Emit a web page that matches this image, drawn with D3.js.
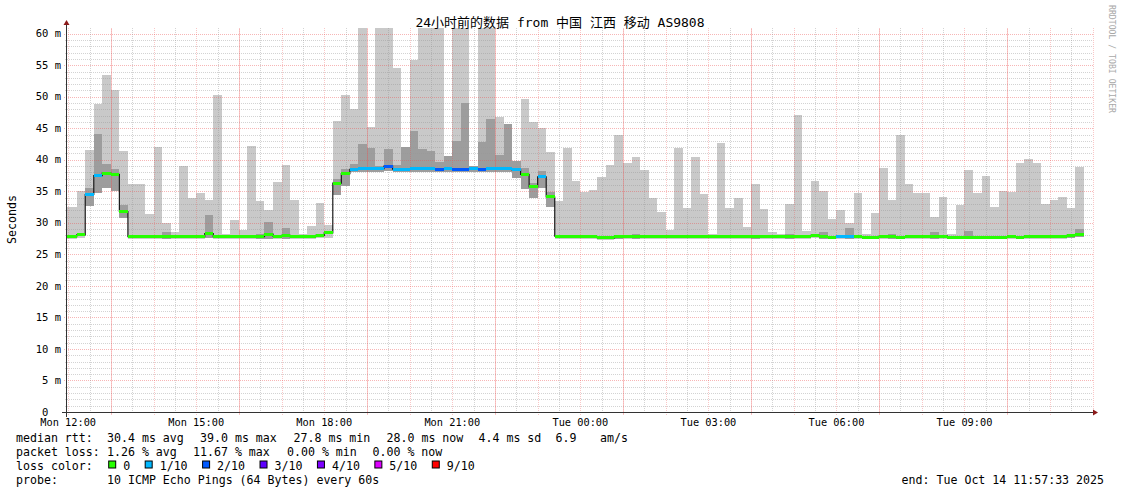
<!DOCTYPE html>
<html><head><meta charset="utf-8">
<script src="https://cdn.jsdelivr.net/npm/d3@7"></script>
<style>
html,body{margin:0;padding:0;background:#fff;}
text{font-family:"DejaVu Sans Mono","Noto Sans CJK SC",monospace;fill:#000;white-space:pre;}
</style></head><body>
<svg id="c" width="1121" height="494"></svg>
<script>
// ---------- data ----------
const startTime = new Date(2025, 9, 13, 11, 58, 22);
const endTime   = new Date(2025, 9, 14, 12, 0, 40);
const firstBar  = new Date(2025, 9, 13, 11, 48, 0);
const stepMinutes = 12;

const maxPing = [32.5,32.5,35.1,41.6,48.9,53.5,51.1,41.4,36.1,36.2,
 31.4,42.0,29.9,28.6,39.0,33.9,34.7,33.7,50.2,28.3,
 30.5,28.8,42.2,33.4,32.0,36.4,39.2,33.7,28.3,29.5,
 33.2,29.7,46.2,50.3,48.1,65,45.2,65,65,54.5,
 42.1,55.9,65,65,65,40.6,65,65,39.0,65,
 65,46.8,45.6,39.8,49.7,46.0,45.1,41.3,33.5,41.8,
 36.7,34.9,35.2,37.3,39.1,44.0,39.5,40.5,38.4,34.0,
 31.8,28.9,41.8,32.4,40.5,34.6,28.3,42.7,32.4,34.0,
 29.4,36.2,32.2,28.6,28.3,33.0,47.1,28.7,36.7,35.1,
 30.6,32.0,30.0,34.7,28.3,31.6,38.7,33.7,44.0,36.2,
 34.7,34.7,31.0,34.1,28.3,32.8,38.4,34.7,37.5,32.5,
 35.1,34.9,39.5,40.2,39.5,33.0,33.7,34.1,32.4,38.9];

const innerPing = [null,null,null,35.6,44.1,39.3,38.5,32.8,null,null,
 null,null,28.5,null,null,null,null,31.2,null,null,
 null,null,null,28.3,30.2,null,29.2,null,null,null,
 null,null,37.0,38.6,39.3,42.5,41.9,39.0,41.7,39.1,
 42.1,44.6,41.7,41.4,39.7,40.6,43.0,49.0,39.0,42.9,
 46.5,40.7,45.6,39.8,38.7,36.3,38.2,34.9,null,null,
 null,null,null,null,null,28.1,null,28.3,null,null,
 null,null,null,null,null,null,null,null,null,null,
 null,28.1,null,null,null,28.3,null,null,null,28.6,
 null,null,29.2,null,null,null,null,28.3,null,null,
 null,null,28.6,null,null,null,28.7,null,null,null,
 null,null,null,null,null,null,null,null,28.3,29.0];

const minPing = [27.5,27.5,27.6,32.7,34.7,35.6,35.0,30.7,27.5,27.5,
 27.5,27.5,27.5,27.5,27.5,27.5,27.5,27.6,27.5,27.5,
 27.5,27.5,27.5,27.5,27.5,27.5,27.5,27.5,27.5,27.5,
 27.6,27.6,34.4,35.8,38.1,38.1,38.1,38.1,38.2,38.1,
 38.1,38.1,38.1,38.1,38.1,38.1,38.1,38.1,38.1,38.1,
 38.1,38.1,38.1,37.1,35.3,34.0,35.6,32.5,27.5,27.5,
 27.5,27.5,27.5,27.3,27.3,27.5,27.5,27.5,27.5,27.5,
 27.5,27.5,27.5,27.5,27.5,27.5,27.5,27.5,27.5,27.5,
 27.5,27.5,27.5,27.5,27.5,27.5,27.5,27.5,27.6,27.5,
 27.4,27.5,27.5,27.5,27.4,27.4,27.5,27.5,27.4,27.5,
 27.5,27.5,27.5,27.5,27.4,27.4,27.4,27.4,27.4,27.4,
 27.4,27.5,27.4,27.5,27.5,27.5,27.5,27.5,27.6,27.7];

const medianRtt = [27.8,27.8,28.1,34.5,37.5,37.9,37.7,31.8,27.8,27.8,
 27.8,27.8,27.8,27.8,27.8,27.8,27.8,28.3,27.8,27.8,
 27.8,27.8,27.8,27.8,28.2,27.9,28.0,27.8,27.8,27.8,
 28.0,28.4,36.3,37.8,38.5,38.6,38.6,38.6,39.0,38.5,
 38.5,38.6,38.6,38.6,38.5,38.6,38.5,38.5,38.6,38.5,
 38.6,38.6,38.6,38.4,37.7,35.7,37.3,34.1,27.9,27.9,
 27.9,27.9,27.8,27.6,27.6,27.8,27.9,27.9,27.8,27.8,
 27.9,27.8,27.8,27.9,27.8,27.8,27.9,27.8,27.8,27.8,
 27.8,27.9,27.9,27.9,27.9,27.9,27.9,27.9,28.0,27.8,
 27.7,27.8,27.8,27.8,27.7,27.7,27.9,27.8,27.7,27.8,
 27.8,27.8,27.8,27.9,27.7,27.7,27.7,27.7,27.7,27.7,
 27.7,27.8,27.7,27.8,27.9,27.8,27.8,27.9,28.0,28.1];

const lossLevel = [0,0,0,1,1,0,0,0,0,0,
 0,0,0,0,0,0,0,0,0,0,
 0,0,0,0,0,0,0,0,0,0,
 0,0,0,0,1,1,1,1,2,1,
 1,1,1,1,2,1,2,2,1,2,
 1,1,1,1,0,0,1,0,0,0,
 0,0,0,0,0,0,0,0,0,0,
 0,0,0,0,0,0,0,0,0,0,
 0,0,0,0,0,0,0,0,0,0,
 0,1,1,0,0,0,0,0,0,0,
 0,0,0,0,0,0,0,0,0,0,
 0,0,0,0,0,0,0,0,0,0];

const lossLabels = ["0","1/10","2/10","3/10","4/10","5/10","9/10"];
const lossColors = ["#26ff00","#00b8ff","#0059ff","#5e00ff","#7e00ff","#dd00ff","#ff0000"];

const yTickValues = [0,5,10,15,20,25,30,35,40,45,50,55,60];
const yTickLabels = ["0  ","5 m","10 m","15 m","20 m","25 m","30 m","35 m","40 m","45 m","50 m","55 m","60 m"];
const xTickTimes = [12,15,18,21,24,27,30,33].map(h => new Date(2025, 9, 13, h, 0, 0));
const xTickLabels = ["Mon 12:00","Mon 15:00","Mon 18:00","Mon 21:00","Tue 00:00","Tue 03:00","Tue 06:00","Tue 09:00"];

const titleText = "24小时前的数据 from 中国 江西 移动 AS9808";
const yTitle = "Seconds";
const rttRow = [["median rtt:",16],["30.4 ms avg",107],["39.0 ms max",200],["27.8 ms min",293.5],["28.0 ms now",386.5],["4.4 ms sd",478.5],["6.9",555.5],["am/s",600]];
const lossRow = [["packet loss:",16],["1.26 % avg",107],["11.67 % max",193],["0.00 % min",287],["0.00 % now",372.5]];
const probeText = "10 ICMP Echo Pings (64 Bytes) every 60s";
const endText = "end: Tue Oct 14 11:57:33 2025";
const credit = "RRDTOOL / TOBI OETIKER";

// ---------- drawing ----------
const svg = d3.select("#c");
const P = {l:67, r:1093, t:28, b:412};
const x = d3.scaleTime().domain([startTime, endTime]).range([P.l, P.r]);
const y = d3.scaleLinear().domain([0, 60]).range([412, 33.7]);

svg.append("rect").attr("width",1121).attr("height",494).attr("fill","#fff");

svg.append("defs").append("clipPath").attr("id","pc")
  .append("rect").attr("x",P.l).attr("y",P.t).attr("width",P.r-P.l).attr("height",P.b-P.t);

const bars = maxPing.map((v,i)=>({
  t0: d3.timeMinute.offset(firstBar, stepMinutes*i),
  t1: d3.timeMinute.offset(firstBar, stepMinutes*(i+1)),
  hi: v, inner: innerPing[i], lo: minPing[i], med: medianRtt[i], loss: lossLevel[i]
}));

const g = svg.append("g").attr("clip-path","url(#pc)");
g.selectAll("rect.smoke").data(bars).join("rect").attr("class","smoke")
  .attr("x", d=>x(d.t0)).attr("width", d=>x(d.t1)-x(d.t0))
  .attr("y", d=>y(d.hi)).attr("height", d=>y(d.lo)-y(d.hi))
  .attr("fill","#c9c9c9").attr("shape-rendering","crispEdges");
g.selectAll("rect.inner").data(bars.filter(d=>d.inner!==null)).join("rect").attr("class","inner")
  .attr("x", d=>x(d.t0)).attr("width", d=>x(d.t1)-x(d.t0))
  .attr("y", d=>y(d.inner)).attr("height", d=>y(d.lo)-y(d.inner))
  .attr("fill","#9d9d9d").attr("shape-rendering","crispEdges");

// grid
const grid = svg.append("g").attr("shape-rendering","crispEdges");
const minorCol = "rgba(150,150,150,0.42)";
const majorCol = "rgba(235,80,80,0.42)";
const majorVCol = "rgba(235,80,80,0.32)";
const minorH = d3.range(1,61).filter(v=>v%5!==0);
const majorH = d3.range(5,61,5);
grid.selectAll("line.mh").data(minorH).join("line")
  .attr("x1",P.l-2).attr("x2",P.r).attr("y1",d=>Math.round(y(d))+0.5).attr("y2",d=>Math.round(y(d))+0.5)
  .attr("stroke",minorCol).attr("stroke-dasharray","1,1");
grid.selectAll("line.MH").data(majorH).join("line")
  .attr("x1",P.l-3).attr("x2",P.r).attr("y1",d=>Math.round(y(d))+0.5).attr("y2",d=>Math.round(y(d))+0.5)
  .attr("stroke",majorCol).attr("stroke-dasharray","1,1");
const halfHours = d3.timeMinute.every(30).range(startTime, endTime).filter(t=>t.getMinutes()===30);
const hours = d3.timeHour.every(1).range(startTime, endTime);
grid.selectAll("line.mv").data(halfHours).join("line")
  .attr("x1",d=>Math.round(x(d))+0.5).attr("x2",d=>Math.round(x(d))+0.5).attr("y1",P.t).attr("y2",P.b+2)
  .attr("stroke",minorCol).attr("stroke-dasharray","1,1");
grid.selectAll("line.MV").data(hours).join("line")
  .attr("x1",d=>Math.round(x(d))+0.5).attr("x2",d=>Math.round(x(d))+0.5).attr("y1",P.t).attr("y2",P.b+3)
  .attr("stroke",majorVCol).attr("stroke-dasharray","1,1");
// stronger lines every third hour
grid.selectAll("line.SV").data(hours.filter(t=>t.getHours()%3===1)).join("line")
  .attr("x1",d=>Math.round(x(d))+0.5).attr("x2",d=>Math.round(x(d))+0.5).attr("y1",P.t).attr("y2",P.b+3)
  .attr("stroke",majorCol).attr("stroke-dasharray","1,1").attr("stroke-dashoffset",1);

// median step line
const pts = bars.map(d=>[x(d.t0), y(d.med)]);
pts.push([x(bars[bars.length-1].t1), y(bars[bars.length-1].med)]);
const g2 = svg.append("g").attr("clip-path","url(#pc)");
g2.append("path").attr("d", d3.line().curve(d3.curveStepAfter)(pts))
  .attr("fill","none").attr("stroke","#1a1a1a").attr("stroke-width",1.2);
g2.selectAll("rect.med").data(bars).join("rect").attr("class","med")
  .attr("x", d=>x(d.t0)).attr("width", d=>x(d.t1)-x(d.t0))
  .attr("y", d=>y(d.med)-1.5).attr("height",3)
  .attr("fill", d=>lossColors[d.loss]).attr("shape-rendering","crispEdges");

// axes
const axisCol = "#333";
svg.append("line").attr("x1",62).attr("x2",P.r+1).attr("y1",412.5).attr("y2",412.5).attr("stroke",axisCol);
svg.append("line").attr("x1",66.5).attr("x2",66.5).attr("y1",417).attr("y2",24).attr("stroke",axisCol);
svg.append("path").attr("d","M1093,409.5 L1098,412.5 L1093,415.5 Z").attr("fill","#8b1a1a");
svg.append("path").attr("d","M63.5,25 L66.5,20 L69.5,25 Z").attr("fill","#8b1a1a");

// y labels
svg.selectAll("text.yl").data(yTickValues).join("text").attr("class","yl")
  .attr("x",61).attr("y",d=>y(d)+3.6).attr("text-anchor","end")
  .style("font-size","10.5px").text((d,i)=>yTickLabels[i]);
// x labels
svg.selectAll("text.xl").data(xTickTimes).join("text").attr("class","xl")
  .attr("x",d=>x(d)).attr("y",425.5).attr("text-anchor","middle")
  .style("font-size","10.3px").text((d,i)=>xTickLabels[i]);

// title
svg.append("text").attr("x",560).attr("y",26.5).attr("text-anchor","middle")
  .style("font-size","13px").text(titleText);
// y title
svg.append("text").attr("transform","translate(15.5,219.5) rotate(-90)").attr("text-anchor","middle")
  .style("font-size","11.6px").text(yTitle);
// credit
svg.append("text").attr("transform","translate(1108.5,5) rotate(90)")
  .attr("textLength",108).attr("lengthAdjust","spacingAndGlyphs")
  .style("font-size","8.6px").style("fill","#a8a8a8").text(credit);

// legend
const LF = "11.6px";
const rows = [441.5, 455.5, 469.5, 483.5];
rttRow.forEach(([t,px])=> svg.append("text").attr("x",px).attr("y",rows[0]).style("font-size",LF).text(t));
lossRow.forEach(([t,px])=> svg.append("text").attr("x",px).attr("y",rows[1]).style("font-size",LF).text(t));
svg.append("text").attr("x",16).attr("y",rows[2]).style("font-size",LF).text("loss color:");
let lx = 108.2;
const cw = 6.98;
lossLabels.forEach((lab,i)=>{
  svg.append("rect").attr("x",lx+0.5).attr("y",rows[2]-8.5).attr("width",7).attr("height",7)
    .attr("fill",lossColors[i]).attr("stroke","#000").attr("stroke-width",1);
  svg.append("text").attr("x",lx+15).attr("y",rows[2]).style("font-size",LF).text(lab);
  lx = lx + 15 + lab.length*cw + 14.5;
});
svg.append("text").attr("x",16).attr("y",rows[3]).style("font-size",LF).text("probe:");
svg.append("text").attr("x",107).attr("y",rows[3]).style("font-size",LF).text(probeText);
svg.append("text").attr("x",1104).attr("y",rows[3]).attr("text-anchor","end").style("font-size",LF).text(endText);
</script>
</body></html>
